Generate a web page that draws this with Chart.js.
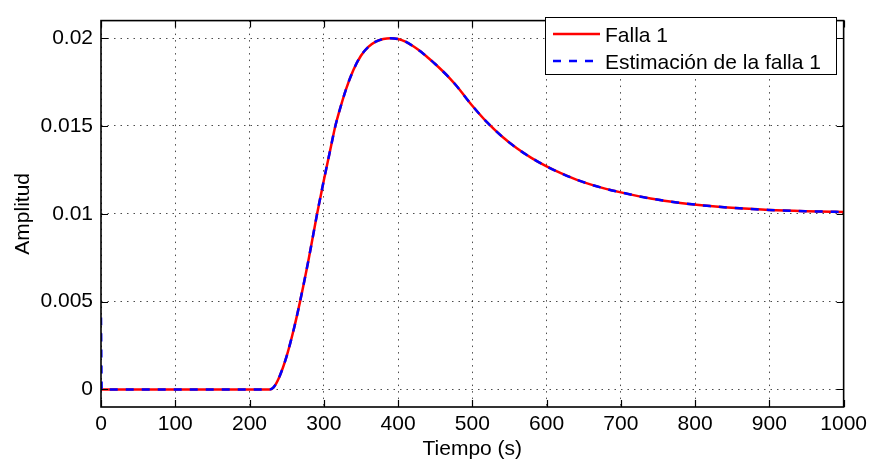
<!DOCTYPE html>
<html>
<head>
<meta charset="utf-8">
<script src="https://cdn.jsdelivr.net/npm/chart.js@4/dist/chart.umd.min.js"></script>
<style>
  html, body { margin: 0; padding: 0; background: #fff; }
  canvas { display: block; }
</style>
</head>
<body>
<canvas id="c" width="872" height="464"></canvas>
<script>
// Time axis (s) and fault amplitude
const tiempo = [0, 100, 200, 227, 232, 240, 250, 260, 268, 280, 291, 300, 310, 315, 320, 330, 340, 350, 360, 370, 380, 390, 400, 410, 420, 430, 440, 450, 460, 470, 480, 490, 500, 520, 540, 560, 580, 600, 620, 640, 660, 680, 700, 740, 780, 820, 860, 900, 950, 1000];
const falla1 = [0, 0, 0, 0, 0.0001, 0.0007, 0.0019, 0.0035, 0.0050, 0.0075, 0.0100, 0.0119, 0.0139, 0.0149, 0.0157, 0.0171, 0.0182, 0.0190, 0.0195, 0.0198, 0.01995, 0.0200, 0.01995, 0.0198, 0.01955, 0.01925, 0.0189, 0.01853, 0.01813, 0.0177, 0.01722, 0.01668, 0.01615, 0.0152, 0.0144, 0.01373, 0.01317, 0.0127, 0.0123, 0.01195, 0.01166, 0.01142, 0.01122, 0.01087, 0.01062, 0.01044, 0.01031, 0.01022, 0.01015, 0.0101];

// Estimator output: short initial transient, then follows the fault
const tiempoEst = [0, 1, 100, 200, 227, 232, 240, 250, 260, 268, 280, 291, 300, 310, 315, 320, 330, 340, 350, 360, 370, 380, 390, 400, 410, 420, 430, 440, 450, 460, 470, 480, 490, 500, 520, 540, 560, 580, 600, 620, 640, 660, 680, 700, 740, 780, 820, 860, 900, 950, 1000];
const estimacion1 = [0.0041, 0, 0, 0, 0, 0.0001, 0.0007, 0.0019, 0.0035, 0.0050, 0.0075, 0.0100, 0.0119, 0.0139, 0.0149, 0.0157, 0.0171, 0.0182, 0.0190, 0.0195, 0.0198, 0.01995, 0.0200, 0.01995, 0.0198, 0.01955, 0.01925, 0.0189, 0.01853, 0.01813, 0.0177, 0.01722, 0.01668, 0.01615, 0.0152, 0.0144, 0.01373, 0.01317, 0.0127, 0.0123, 0.01195, 0.01166, 0.01142, 0.01122, 0.01087, 0.01062, 0.01044, 0.01031, 0.01022, 0.01015, 0.0101];

const xTicks = [0, 100, 200, 300, 400, 500, 600, 700, 800, 900, 1000];
const xTickLabels = ['0', '100', '200', '300', '400', '500', '600', '700', '800', '900', '1000'];
const yTicks = [0, 0.005, 0.01, 0.015, 0.02];
const yTickLabels = ['0', '0.005', '0.01', '0.015', '0.02'];

const FONT = '"Liberation Sans", Arial, Helvetica, sans-serif';
const BLUE_DASH = [8, 8];
const GRID_DOTS = [1.5, 5];

const toPoints = (xs, ys) => xs.map((x, i) => ({ x: x, y: ys[i] }));
const labelFor = (ticks, labels) => v => { const i = ticks.indexOf(v); return i >= 0 ? labels[i] : ''; };

// Frame, inward tick marks, axis titles and boxed legend
const matlabAxes = {
  id: 'matlabAxes',
  afterDraw(chart) {
    const ctx = chart.ctx;
    const a = chart.chartArea;
    const xs = chart.scales.x, ys = chart.scales.y;
    const tl = 7;
    ctx.save();
    ctx.strokeStyle = '#000';
    ctx.lineWidth = 1.2;
    ctx.setLineDash([]);
    ctx.beginPath();
    xTicks.forEach(v => {
      const px = Math.round(xs.getPixelForValue(v)) + 0.5;
      ctx.moveTo(px, a.bottom); ctx.lineTo(px, a.bottom - tl);
      ctx.moveTo(px, a.top); ctx.lineTo(px, a.top + tl);
    });
    yTicks.forEach(v => {
      const py = Math.round(ys.getPixelForValue(v)) + 0.5;
      ctx.moveTo(a.left, py); ctx.lineTo(a.left + tl, py);
      ctx.moveTo(a.right, py); ctx.lineTo(a.right - tl, py);
    });
    ctx.stroke();
    ctx.lineWidth = 1.6;
    ctx.strokeRect(a.left, a.top, a.right - a.left, a.bottom - a.top);

    // axis titles
    ctx.fillStyle = '#000';
    ctx.font = '21px ' + FONT;
    ctx.textAlign = 'center';
    ctx.textBaseline = 'alphabetic';
    ctx.fillText('Tiempo (s)', (a.left + a.right) / 2, 455);
    ctx.save();
    ctx.translate(29, (a.top + a.bottom) / 2);
    ctx.rotate(-Math.PI / 2);
    ctx.fillText('Amplitud', 0, 0);
    ctx.restore();

    // legend
    const lx = 545, ly = 17, lw = 291, lh = 57;
    ctx.fillStyle = '#fff';
    ctx.fillRect(lx, ly, lw, lh);
    ctx.lineWidth = 1;
    ctx.strokeStyle = '#000';
    ctx.strokeRect(lx + 0.5, ly + 0.5, lw, lh);
    const rows = [34, 61];
    chart.data.datasets.forEach((ds, i) => {
      const y = rows[i];
      ctx.strokeStyle = ds.borderColor;
      ctx.lineWidth = ds.borderWidth;
      ctx.setLineDash(ds.borderDash || []);
      ctx.beginPath();
      ctx.moveTo(553, y); ctx.lineTo(600, y);
      ctx.stroke();
      ctx.setLineDash([]);
      ctx.fillStyle = '#000';
      ctx.font = '21px ' + FONT;
      ctx.textAlign = 'left';
      ctx.textBaseline = 'alphabetic';
      ctx.fillText(ds.label, 605, y + 7.5);
    });
    ctx.restore();
  }
};

new Chart(document.getElementById('c'), {
  type: 'line',
  data: {
    datasets: [
      {
        label: 'Falla 1',
        data: toPoints(tiempo, falla1),
        borderColor: '#ff0000',
        borderWidth: 2.5,
        pointRadius: 0,
        cubicInterpolationMode: 'monotone',
        fill: false,
        order: 2
      },
      {
        label: 'Estimación de la falla 1',
        data: toPoints(tiempoEst, estimacion1),
        borderColor: '#0000ff',
        borderWidth: 2.5,
        borderDash: BLUE_DASH,
        pointRadius: 0,
        cubicInterpolationMode: 'monotone',
        fill: false,
        order: 1
      }
    ]
  },
  options: {
    responsive: false,
    devicePixelRatio: 1,
    animation: false,
    layout: { padding: { top: 9, right: 27, left: 0, bottom: 0 } },
    plugins: { legend: { display: false }, tooltip: { enabled: false } },
    scales: {
      x: {
        type: 'linear',
        min: 0, max: 1000,
        afterBuildTicks: s => { s.ticks = xTicks.map(v => ({ value: v })); },
        afterFit: s => { s.height = 57; },
        border: { display: false, dash: GRID_DOTS },
        grid: { color: 'rgba(0,0,0,0.7)', lineWidth: 1, drawTicks: false },
        ticks: { color: '#000', font: { family: FONT, size: 21 }, padding: 5, maxRotation: 0, autoSkip: false,
                 callback: labelFor(xTicks, xTickLabels) }
      },
      y: {
        type: 'linear',
        min: -0.001, max: 0.021,
        afterBuildTicks: s => { s.ticks = yTicks.map(v => ({ value: v })); },
        afterFit: s => { s.width = 101; },
        border: { display: false, dash: GRID_DOTS },
        grid: { color: 'rgba(0,0,0,0.7)', lineWidth: 1, drawTicks: false },
        ticks: { color: '#000', font: { family: FONT, size: 21 }, padding: 8, autoSkip: false,
                 callback: labelFor(yTicks, yTickLabels) }
      }
    }
  },
  plugins: [matlabAxes]
});
</script>
</body>
</html>
